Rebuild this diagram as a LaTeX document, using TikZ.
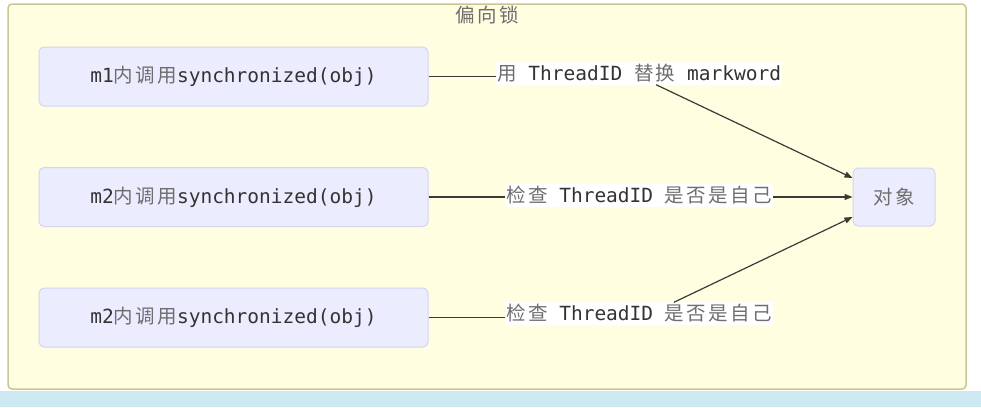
\documentclass[tikz,border=0pt]{standalone}
\usepackage{fontspec}
\setmonofont{DejaVu Sans Mono}
\newfontfamily\cjk[LetterSpace=12]{Noto Sans CJK SC}
\usetikzlibrary{arrows.meta,calc}
\definecolor{framefill}{HTML}{FFFEE0}
\definecolor{framedraw}{HTML}{C8C890}
\definecolor{boxfill}{HTML}{ECECFF}
\definecolor{boxdraw}{HTML}{D4D4F2}
\definecolor{txt}{HTML}{333333}
\definecolor{zhtxt}{HTML}{6E6E6E}
\definecolor{edge}{HTML}{3A3A3A}
\definecolor{strip}{HTML}{CDE8F0}
\newcommand{\zh}[1]{{\cjk\color{zhtxt}#1}}
\tikzset{
  mbox/.style={draw=boxdraw, fill=boxfill, line width=1pt, rounded corners=5pt,
    minimum width=389pt, minimum height=59pt, inner sep=0pt,
    font=\fontsize{19.5}{22}\ttfamily, text=txt},
  objbox/.style={draw=boxdraw, fill=boxfill, line width=1pt, rounded corners=5pt,
    minimum width=82pt, minimum height=58pt, inner sep=0pt},
  elabel/.style={fill=white, inner xsep=1pt, inner ysep=2pt, anchor=west,
    font=\fontsize{19.5}{22}\ttfamily, text=txt},
  conn/.style={draw=edge, line width=1.2pt},
  arr/.style={conn, -{Triangle[length=8pt,width=6pt]}}
}
\begin{document}
\begin{tikzpicture}[x=1pt,y=-1pt]
\useasboundingbox (0,0) rectangle (981,407);
\fill[white] (0,0) rectangle (981,407);
\fill[strip] (0,391) rectangle (981,407);
\draw[draw=framedraw, fill=framefill, line width=1.5pt, rounded corners=4pt] (8,4) rectangle (966,389);
\node[font=\fontsize{19.5}{22}\selectfont] (title) at (487,15) {\zh{偏向锁}};

\node[mbox] (m1) at (233.5,76.5) {m1\zh{内调用}synchronized(obj)};
\node[mbox] (m2) at (233.5,197) {m2\zh{内调用}synchronized(obj)};
\node[mbox] (m3) at (233.5,317.5) {m2\zh{内调用}synchronized(obj)};
\node[objbox, font=\fontsize{19.5}{22}\selectfont] (obj) at (894,197) {\zh{对象}};

\node[elabel] (l1) at (496,73.5) {\zh{用} ThreadID \zh{替换} markword};
\node[elabel] (l2) at (505,195.5) {\zh{检查} ThreadID \zh{是否是自己}};
\node[elabel] (l3) at (505,313.5) {\zh{检查} ThreadID \zh{是否是自己}};

\draw[conn] (m1.east) -- (m1.east -| l1.west);
\draw[arr] ([xshift=17pt]l1.south) -- ([yshift=19pt]obj.west);
\draw[conn] (m2.east) -- (m2.east -| l2.west);
\draw[arr] (m2.east -| l2.east) -- (obj.west);
\draw[conn] (m3.east) -- (m3.east -| l3.west);
\draw[arr] ([xshift=35pt]l3.north) -- ([yshift=-20pt]obj.west);
\end{tikzpicture}
\end{document}
